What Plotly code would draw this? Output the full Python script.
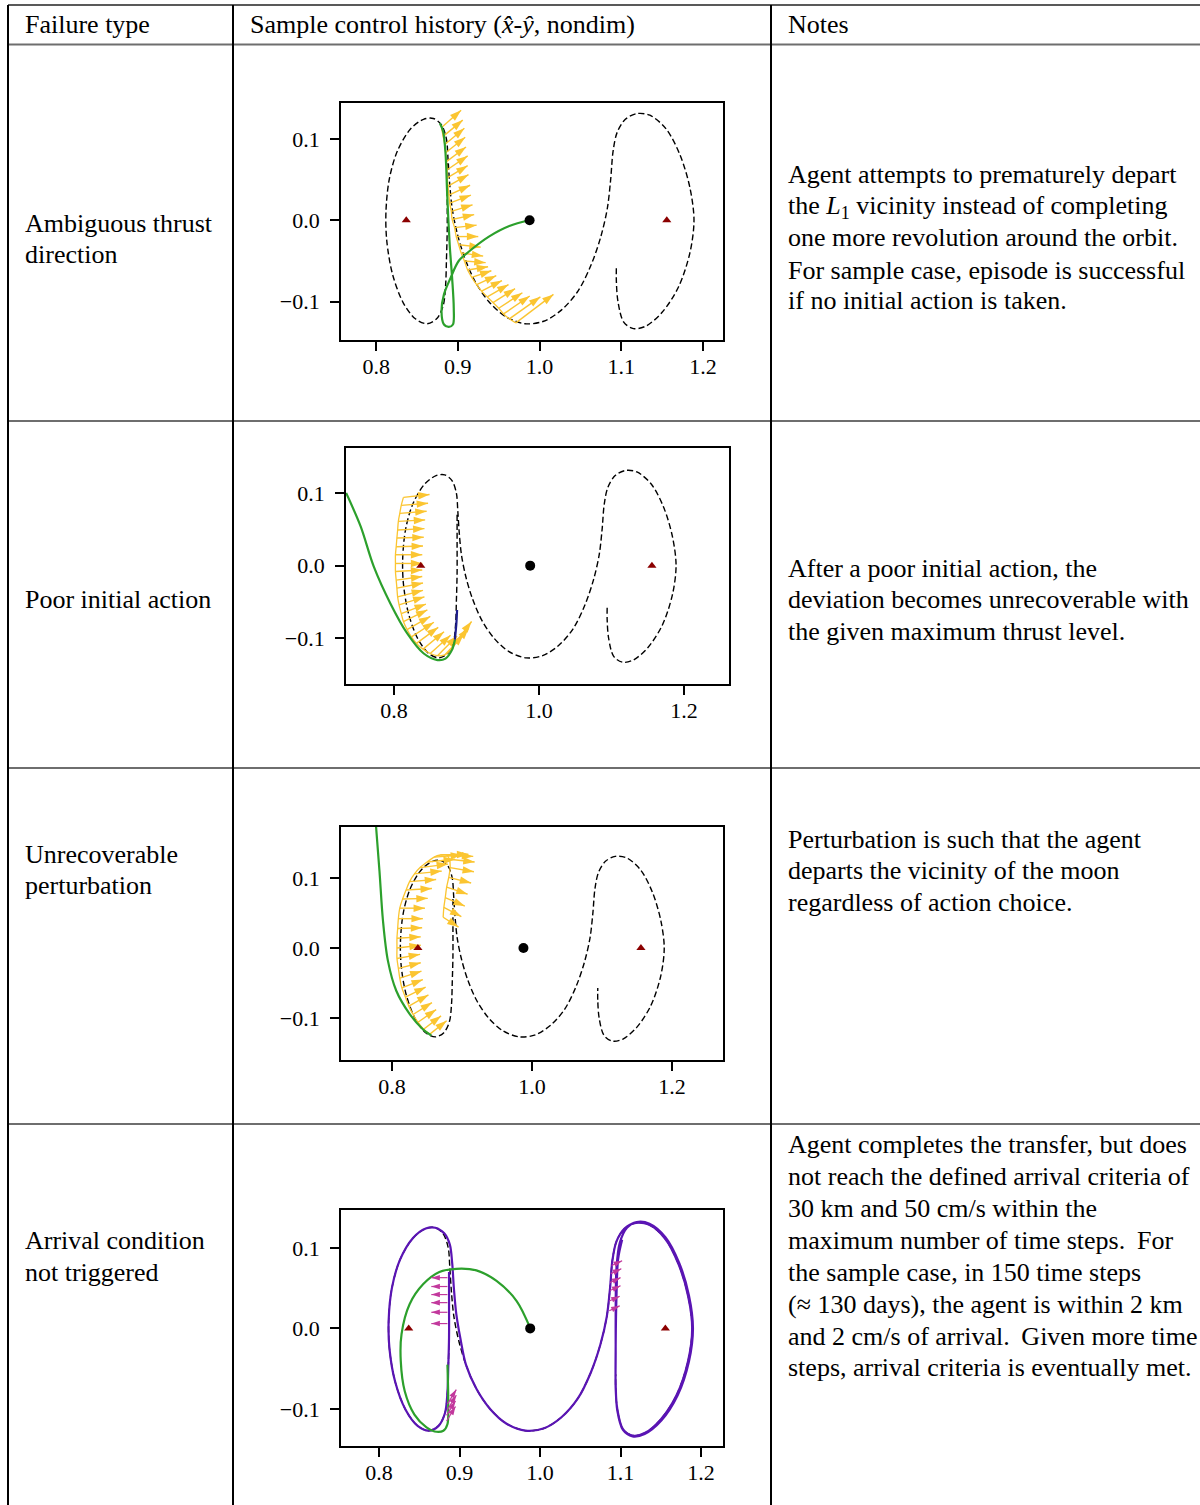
import math
import plotly.graph_objects as go

W, H = 1200, 1505
FONT = "Liberation Serif"

# ---------------- data ----------------
# reference transfer path (dashed): L1 Lyapunov orbit -> transfer -> L2 Lyapunov orbit
ref_x = [0.887, 0.887, 0.887, 0.886, 0.885, 0.882, 0.874, 0.862, 0.848, 0.833, 0.820, 0.813,
         0.812, 0.816, 0.826, 0.842, 0.858, 0.870, 0.880, 0.886, 0.888, 0.890, 0.893, 0.899,
         0.908, 0.921, 0.938, 0.958, 0.982, 1.005, 1.027, 1.047, 1.063, 1.075, 1.083, 1.087,
         1.090, 1.095, 1.105, 1.119, 1.135, 1.155, 1.172, 1.184, 1.189, 1.184, 1.170, 1.150,
         1.130, 1.115, 1.103, 1.096, 1.094, 1.094]
ref_y = [0.070, 0.030, -0.011, -0.050, -0.080, -0.105, -0.121, -0.127, -0.121, -0.101, -0.066, -0.025,
         0.010, 0.050, 0.085, 0.112, 0.124, 0.125, 0.117, 0.100, 0.075, 0.045, 0.015, -0.015,
         -0.045, -0.075, -0.100, -0.118, -0.127, -0.124, -0.110, -0.087, -0.055, -0.020, 0.015, 0.050,
         0.085, 0.108, 0.124, 0.131, 0.129, 0.112, 0.080, 0.040, 0.000, -0.040, -0.082, -0.113,
         -0.130, -0.133, -0.125, -0.100, -0.075, -0.057]

lib_x = [0.8369, 1.1557]     # L1, L2
lib_y = [0.0, 0.0]
moon_x = [0.9878]
moon_y = [0.0]

# Row 1: ambiguous thrust direction
green1_x = [0.988, 0.963, 0.938, 0.914, 0.901, 0.891, 0.883, 0.880, 0.883, 0.889, 0.894, 0.895,
            0.893, 0.890, 0.887, 0.885, 0.882, 0.878]
green1_y = [0.000, -0.007, -0.020, -0.038, -0.050, -0.071, -0.091, -0.112, -0.128, -0.131, -0.128, -0.108,
            -0.071, -0.030, 0.031, 0.081, 0.109, 0.119]
yel1_x = [0.880, 0.882, 0.884, 0.885, 0.886, 0.887, 0.887, 0.888, 0.889, 0.890, 0.892, 0.893, 0.896,
          0.898, 0.901, 0.904, 0.908, 0.912, 0.917, 0.923, 0.929, 0.936, 0.943, 0.950, 0.956, 0.963, 0.971]
yel1_y = [0.114, 0.103, 0.093, 0.083, 0.072, 0.062, 0.052, 0.042, 0.031, 0.021, 0.011, 0.001, -0.009,
          -0.020, -0.030, -0.040, -0.050, -0.061, -0.070, -0.079, -0.087, -0.094, -0.101, -0.108, -0.115, -0.121, -0.126]
yel1_u = [0.024, 0.024, 0.024, 0.024, 0.024, 0.025, 0.025, 0.025, 0.026, 0.026, 0.026, 0.027, 0.027,
          0.027, 0.027, 0.027, 0.026, 0.025, 0.024, 0.024, 0.025, 0.026, 0.027, 0.029, 0.032, 0.038, 0.046]
yel1_v = [0.021, 0.020, 0.020, 0.019, 0.018, 0.017, 0.015, 0.014, 0.012, 0.010, 0.008, 0.006, 0.003,
          0.000, -0.003, -0.004, -0.002, 0.004, 0.008, 0.011, 0.013, 0.015, 0.017, 0.019, 0.022, 0.027, 0.035]

# Row 2: poor initial action
green2_x = [0.734, 0.754, 0.772, 0.795, 0.818, 0.841, 0.860, 0.871, 0.880, 0.884]
green2_y = [0.100, 0.054, -0.001, -0.052, -0.093, -0.121, -0.130, -0.128, -0.116, -0.102]
blue2_x = [0.884, 0.886, 0.887]
blue2_y = [-0.102, -0.080, -0.061]
yel2_x = [0.813, 0.810, 0.808, 0.806, 0.805, 0.804, 0.803, 0.802, 0.802, 0.802, 0.803, 0.804, 0.805,
          0.807, 0.810, 0.813, 0.818, 0.824, 0.831, 0.840, 0.850, 0.860, 0.870, 0.878, 0.883]
yel2_y = [0.094, 0.083, 0.072, 0.061, 0.049, 0.038, 0.026, 0.015, 0.003, -0.008, -0.020, -0.031, -0.043,
          -0.054, -0.066, -0.077, -0.088, -0.098, -0.107, -0.115, -0.121, -0.124, -0.123, -0.116, -0.108]
yel2_u = [0.036, 0.037, 0.037, 0.037, 0.037, 0.037, 0.037, 0.037, 0.037, 0.037, 0.036, 0.036, 0.035,
          0.035, 0.034, 0.033, 0.032, 0.031, 0.030, 0.029, 0.028, 0.027, 0.026, 0.025, 0.024]
yel2_v = [0.004, 0.003, 0.003, 0.002, 0.002, 0.001, 0.001, 0.000, 0.000, 0.002, 0.005, 0.007, 0.009,
          0.011, 0.013, 0.016, 0.018, 0.020, 0.022, 0.024, 0.025, 0.027, 0.028, 0.030, 0.031]

# Row 3: unrecoverable perturbation
green3_x = [0.777, 0.782, 0.787, 0.794, 0.806, 0.825, 0.844, 0.856]
green3_y = [0.175, 0.110, 0.039, -0.018, -0.061, -0.094, -0.116, -0.125]
yel3_x = [0.854, 0.845, 0.837, 0.830, 0.824, 0.819, 0.814, 0.811, 0.809, 0.807, 0.807, 0.807, 0.808,
          0.809, 0.811, 0.815, 0.820, 0.825, 0.832, 0.840, 0.850, 0.860, 0.869, 0.878, 0.882, 0.883,
          0.881, 0.878, 0.876, 0.874, 0.873]
yel3_y = [-0.123, -0.116, -0.106, -0.095, -0.083, -0.070, -0.057, -0.043, -0.029, -0.015, 0.000, 0.014, 0.028,
          0.042, 0.057, 0.070, 0.083, 0.095, 0.106, 0.115, 0.123, 0.130, 0.133, 0.133, 0.127, 0.115,
          0.101, 0.087, 0.072, 0.058, 0.044]
yel3_u = [0.024, 0.025, 0.026, 0.027, 0.028, 0.029, 0.030, 0.031, 0.032, 0.033, 0.034, 0.034, 0.035,
          0.035, 0.036, 0.036, 0.037, 0.038, 0.039, 0.040, 0.040, 0.040, 0.040, 0.038, 0.036, 0.034,
          0.032, 0.030, 0.028, 0.025, 0.022]
yel3_v = [0.019, 0.019, 0.018, 0.017, 0.016, 0.014, 0.012, 0.010, 0.008, 0.006, 0.004, 0.002, 0.001,
          0.000, 0.000, 0.001, 0.002, 0.003, 0.004, 0.005, 0.004, 0.003, 0.001, -0.002, -0.004, -0.006,
          -0.008, -0.010, -0.012, -0.013, -0.014]

# Row 4: arrival condition not triggered
purple4_x = [0.887, 0.887, 0.887, 0.886, 0.885, 0.882, 0.874, 0.862, 0.848, 0.833, 0.820, 0.813,
             0.812, 0.816, 0.826, 0.842, 0.858, 0.870, 0.881, 0.888, 0.891, 0.893, 0.896, 0.901,
             0.908, 0.921, 0.938, 0.958, 0.982, 1.005, 1.027, 1.047, 1.063, 1.075, 1.083, 1.087,
             1.090, 1.095, 1.105, 1.119, 1.135, 1.155, 1.172, 1.184, 1.189, 1.184, 1.170, 1.150,
             1.130, 1.115, 1.103, 1.096, 1.094, 1.094, 1.094, 1.095, 1.099, 1.108, 1.120, 1.136,
             1.156, 1.173, 1.185, 1.190, 1.185, 1.171, 1.151, 1.130, 1.115, 1.103, 1.096, 1.094,
             1.094, 1.095, 1.097, 1.102]
purple4_y = [0.070, 0.030, -0.011, -0.050, -0.080, -0.105, -0.121, -0.127, -0.121, -0.101, -0.066, -0.025,
             0.010, 0.050, 0.085, 0.112, 0.124, 0.125, 0.118, 0.104, 0.080, 0.050, 0.018, -0.012,
             -0.045, -0.075, -0.100, -0.118, -0.127, -0.124, -0.110, -0.087, -0.055, -0.020, 0.015, 0.050,
             0.085, 0.108, 0.124, 0.131, 0.129, 0.112, 0.080, 0.040, 0.000, -0.040, -0.082, -0.113,
             -0.130, -0.133, -0.125, -0.100, -0.075, -0.030, 0.030, 0.075, 0.106, 0.125, 0.132, 0.130,
             0.113, 0.081, 0.041, 0.000, -0.041, -0.083, -0.114, -0.131, -0.134, -0.126, -0.102, -0.070,
             -0.020, 0.040, 0.086, 0.110]
green4_x = [0.988, 0.971, 0.946, 0.921, 0.896, 0.875, 0.855, 0.838, 0.828, 0.827, 0.832, 0.844,
            0.859, 0.869, 0.880, 0.885, 0.886, 0.885]
green4_y = [0.000, 0.034, 0.059, 0.072, 0.074, 0.070, 0.055, 0.030, -0.007, -0.040, -0.078, -0.107,
            -0.123, -0.128, -0.127, -0.119, -0.090, -0.045]
mag4_x = [0.885, 0.885, 0.885, 0.885, 0.885, 0.885, 0.884, 0.884, 0.885, 0.885,
          1.086, 1.086, 1.087, 1.087, 1.088, 1.089]
mag4_y = [0.063, 0.052, 0.042, 0.032, 0.020, 0.006, -0.115, -0.108, -0.101, -0.094,
          0.022, 0.034, 0.047, 0.057, 0.068, 0.078]
mag4_u = [-0.020, -0.020, -0.020, -0.020, -0.020, -0.020, 0.011, 0.011, 0.011, 0.011,
          0.013, 0.013, 0.013, 0.013, 0.013, 0.013]
mag4_v = [0.000, 0.000, 0.000, 0.000, 0.000, 0.000, 0.018, 0.018, 0.018, 0.018,
          0.006, 0.006, 0.006, 0.006, 0.006, 0.006]

x_ticks_fine = [0.8, 0.9, 1.0, 1.1, 1.2]
x_ticks_coarse = [0.8, 1.0, 1.2]
y_ticks = [-0.1, 0.0, 0.1]
y_ticktext = ["\u22120.1", "0.0", "0.1"]

row_labels = [["Ambiguous thrust", "direction"], ["Poor initial action"],
              ["Unrecoverable", "perturbation"], ["Arrival condition", "not triggered"]]
notes = [
    ["Agent attempts to prematurely depart",
     "the <i>L</i><sub>1</sub> vicinity instead of completing",
     "one more revolution around the orbit.",
     "For sample case, episode is successful",
     "if no initial action is taken."],
    ["After a poor initial action, the",
     "deviation becomes unrecoverable with",
     "the given maximum thrust level."],
    ["Perturbation is such that the agent",
     "departs the vicinity of the moon",
     "regardless of action choice."],
    ["Agent completes the transfer, but does",
     "not reach the defined arrival criteria of",
     "30 km and 50 cm/s within the",
     "maximum number of time steps.\u2009 For",
     "the sample case, in 150 time steps",
     "(\u2248 130 days), the agent is within 2 km",
     "and 2 cm/s of arrival.\u2009 Given more time",
     "steps, arrival criteria is eventually met."],
]
headers = ["Failure type", "Sample control history (<i>x\u0302</i>-<i>\u0177</i>, nondim)", "Notes"]

# ---------------- layout helpers ----------------
def px(xp):
    return xp / W

def py(yp):
    return 1 - yp / H

panels = [
    dict(dom_x=(341, 723), dom_y=(103, 340), xr=(0.757, 1.2245), yr=(-0.147, 0.144), xt=x_ticks_fine),
    dict(dom_x=(346, 729), dom_y=(448, 684), xr=(0.7338, 1.262), yr=(-0.163, 0.162), xt=x_ticks_coarse),
    dict(dom_x=(341, 723), dom_y=(827, 1060), xr=(0.727, 1.273), yr=(-0.160, 0.173), xt=x_ticks_coarse),
    dict(dom_x=(341, 723), dom_y=(1210, 1446), xr=(0.7528, 1.2273), yr=(-0.146, 0.147), xt=x_ticks_fine),
]

fig = go.Figure()

GOLD = "#fbc531"
GREEN = "#2ca02c"


def ax_names(i):
    s = "" if i == 1 else str(i)
    return "x" + s, "y" + s


def line(i, xs, ys, color, width, dash="solid", shape="spline"):
    xa, ya = ax_names(i)
    fig.add_trace(go.Scatter(x=xs, y=ys, mode="lines", xaxis=xa, yaxis=ya,
                             line=dict(color=color, width=width, dash=dash, shape=shape, smoothing=0.9),
                             hoverinfo="skip"))


def quiver(i, xs, ys, us, vs, color, head=12, width=1.4):
    xa, ya = ax_names(i)
    sx, sy, hx, hy, ang = [], [], [], [], []
    for x, y, u, v in zip(xs, ys, us, vs):
        sx += [x, x + u, None]
        sy += [y, y + v, None]
        hx.append(x + u)
        hy.append(y + v)
        ang.append(90 - math.degrees(math.atan2(v, u)))
    fig.add_trace(go.Scatter(x=sx, y=sy, mode="lines", xaxis=xa, yaxis=ya,
                             line=dict(color=color, width=width), hoverinfo="skip"))
    fig.add_trace(go.Scatter(x=hx, y=hy, mode="markers", xaxis=xa, yaxis=ya,
                             marker=dict(symbol="arrow", size=head, angle=ang, color=color,
                                         line=dict(width=0)),
                             hoverinfo="skip"))


def points(i):
    xa, ya = ax_names(i)
    fig.add_trace(go.Scatter(x=lib_x, y=lib_y, mode="markers", xaxis=xa, yaxis=ya,
                             marker=dict(symbol="triangle-up", size=8, color="#8b0000"), hoverinfo="skip"))
    fig.add_trace(go.Scatter(x=moon_x, y=moon_y, mode="markers", xaxis=xa, yaxis=ya,
                             marker=dict(symbol="circle", size=10, color="black"), hoverinfo="skip"))


DASH = "6px,3px"

# panel 1
line(1, ref_x, ref_y, "black", 1.4, DASH)
line(1, yel1_x, yel1_y, GOLD, 1.3)
quiver(1, yel1_x, yel1_y, yel1_u, yel1_v, GOLD)
line(1, green1_x, green1_y, GREEN, 2.2)
points(1)

# panel 2
line(2, ref_x, ref_y, "black", 1.4, DASH)
line(2, yel2_x, yel2_y, GOLD, 1.3)
quiver(2, yel2_x, yel2_y, yel2_u, yel2_v, GOLD)
line(2, green2_x, green2_y, GREEN, 2.2)
line(2, blue2_x, blue2_y, "#1c1c8c", 2.2)
points(2)

# panel 3
line(3, ref_x, ref_y, "black", 1.4, DASH)
line(3, yel3_x, yel3_y, GOLD, 1.3)
quiver(3, yel3_x, yel3_y, yel3_u, yel3_v, GOLD)
line(3, green3_x, green3_y, GREEN, 2.2)
points(3)

# panel 4
line(4, ref_x, ref_y, "black", 1.4, DASH)
line(4, purple4_x, purple4_y, "#5a14b4", 2.2)
line(4, green4_x, green4_y, GREEN, 2.2)
quiver(4, mag4_x, mag4_y, mag4_u, mag4_v, "#c2389c", head=9, width=1.2)
points(4)

layout = dict(width=W, height=H, margin=dict(l=0, r=0, t=0, b=0), autosize=False,
              paper_bgcolor="white", plot_bgcolor="white", showlegend=False)

tickfont = dict(family=FONT, size=22, color="black")
for i, p in enumerate(panels, start=1):
    s = "" if i == 1 else str(i)
    xa, ya = ax_names(i)
    layout["xaxis" + s] = dict(domain=[px(p["dom_x"][0]), px(p["dom_x"][1])], range=list(p["xr"]),
                               anchor=ya, tickvals=p["xt"], tickformat=".1f",
                               showline=True, linecolor="black", linewidth=1.8, mirror=True,
                               ticks="outside", ticklen=9, tickwidth=1.5, tickcolor="black",
                               ticklabelstandoff=-3,
                               showgrid=False, zeroline=False, tickfont=tickfont, fixedrange=True)
    layout["yaxis" + s] = dict(domain=[py(p["dom_y"][1]), py(p["dom_y"][0])], range=list(p["yr"]),
                               anchor=xa, tickvals=y_ticks, ticktext=y_ticktext,
                               showline=True, linecolor="black", linewidth=1.8, mirror=True,
                               ticks="outside", ticklen=9, tickwidth=1.5, tickcolor="black",
                               ticklabelstandoff=6,
                               showgrid=False, zeroline=False, tickfont=tickfont, fixedrange=True)

# table lines
shapes = []
shapes.append(dict(type="line", xref="paper", yref="paper", x0=px(8), x1=1, y0=py(5), y1=py(5),
                   line=dict(color="#222222", width=1.6)))
for yy in [44.5, 421, 768, 1124]:
    shapes.append(dict(type="line", xref="paper", yref="paper", x0=px(8), x1=1, y0=py(yy), y1=py(yy),
                       line=dict(color="#6e6e6e", width=2)))
for xx in [8, 233, 771]:
    shapes.append(dict(type="line", xref="paper", yref="paper", x0=px(xx), x1=px(xx), y0=py(5), y1=0,
                       line=dict(color="black", width=2)))
layout["shapes"] = shapes

# text
annots = []
TXT = dict(family=FONT, size=26, color="black")


def text(x, y, s):
    annots.append(dict(x=px(x), y=py(y), xref="paper", yref="paper", text=s, showarrow=False,
                       xanchor="left", yanchor="middle", font=TXT))


text(23, 25, headers[0])
text(248, 25, headers[1])
text(786, 25, headers[2])

label_y = [[223, 254], [600], [855, 886], [1240, 1272]]
for lines, ys in zip(row_labels, label_y):
    for s, yv in zip(lines, ys):
        text(23, yv, s)

note_y = [[175, 207, 238, 270, 301], [568, 600, 631], [839, 870, 902],
          [1144, 1176, 1208, 1240, 1272, 1304, 1336, 1367]]
for lines, ys in zip(notes, note_y):
    for s, yv in zip(lines, ys):
        text(786, yv, s)

layout["annotations"] = annots
fig.update_layout(**layout)

fig.write_html("out.html", config={"displayModeBar": False})
